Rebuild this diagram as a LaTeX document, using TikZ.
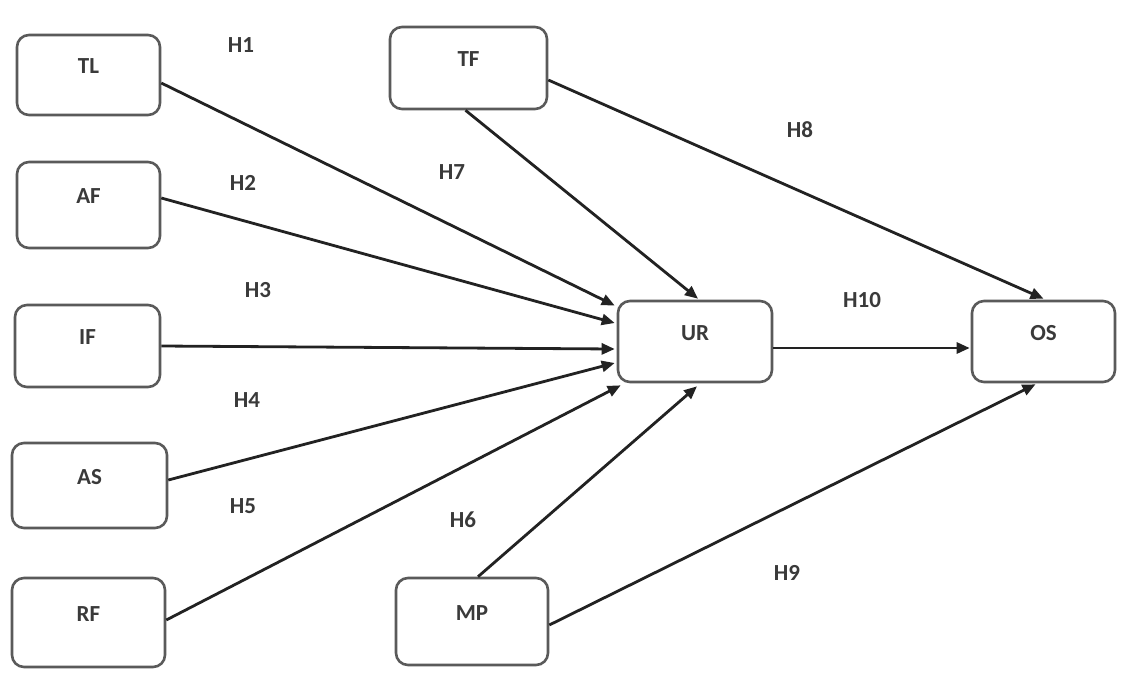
\documentclass[tikz,border=0pt]{standalone}
\usepackage{fontspec}
\setmainfont{Carlito}
\usetikzlibrary{arrows.meta}
\definecolor{boxline}{HTML}{5A5A5A}
\definecolor{txt}{HTML}{3A3A3A}
\definecolor{arr}{HTML}{222222}
\tikzset{
  box/.style={draw=boxline, line width=2.6pt, rounded corners=12pt, fill=white,
    minimum width=143pt, minimum height=82pt, inner sep=0pt,
    font=\fontsize{23}{26}\selectfont\bfseries, text=txt,
    text height=9pt, text depth=12pt},
  hyp/.style={font=\fontsize{23}{26}\selectfont\bfseries, text=txt, inner sep=0pt},
  link/.style={draw=arr, line width=2.8pt, -{Triangle[length=13pt,width=11pt]}}
}
\begin{document}
\begin{tikzpicture}[x=1pt,y=-1pt]
\useasboundingbox[fill=white] (0,0) rectangle (1135,681);
\node[box, minimum width=143pt, minimum height=80pt] (TL) at (88.5,75) {TL};
\node[box, minimum width=143pt, minimum height=86pt] (AF) at (88.5,205) {AF};
\node[box, minimum width=145pt, minimum height=82pt] (IF) at (87.5,346) {IF};
\node[box, minimum width=155pt, minimum height=85pt] (AS) at (89.5,485.5) {AS};
\node[box, minimum width=153pt, minimum height=89pt] (RF) at (88.5,622.5) {RF};
\node[box, minimum width=157pt, minimum height=82pt] (TF) at (468.5,68) {TF};
\node[box, minimum width=154pt, minimum height=81pt] (UR) at (695,341.5) {UR};
\node[box, minimum width=143pt, minimum height=81pt] (OS) at (1043.5,341.5) {OS};
\node[box, minimum width=152pt, minimum height=87pt] (MP) at (472,621.5) {MP};

\draw[link] ([yshift=-8pt]TL.east) -- ([xshift=-2pt,yshift=36pt]UR.west);
\draw[link] ([yshift=7pt]AF.east) -- ([xshift=-2pt,yshift=18.5pt]UR.west);
\draw[link] ([yshift=0pt]IF.east) -- ([xshift=-2pt,yshift=-7.5pt]UR.west);
\draw[link] ([yshift=5.5pt]AS.east) -- ([xshift=-2pt,yshift=-21.5pt]UR.west);
\draw[link] ([yshift=2.5pt]RF.east) -- ([xshift=4pt,yshift=-2pt]UR.south west);
\draw[link] ([xshift=-3pt]TF.south) -- ([xshift=3pt,yshift=1pt]UR.north);
\draw[link] ([yshift=-12pt]TF.east) -- ([yshift=1pt]OS.north);
\draw[link] ([yshift=-6.5pt]UR.east) -- ([xshift=-1pt,yshift=-6.5pt]OS.west);
\draw[link] ([xshift=6pt]MP.north) -- ([xshift=2pt,yshift=-3pt]UR.south);
\draw[link] ([yshift=-3.5pt]MP.east) -- ([xshift=-8pt,yshift=-1pt]OS.south);

\node[hyp] (h1) at (241,45) {H1};
\node[hyp] (h2) at (243,183) {H2};
\node[hyp] (h3) at (258,290) {H3};
\node[hyp] (h4) at (247,400) {H4};
\node[hyp] (h5) at (243,506) {H5};
\node[hyp] (h6) at (463,520) {H6};
\node[hyp] (h7) at (452,172) {H7};
\node[hyp] (h8) at (800,130) {H8};
\node[hyp] (h9) at (787,573) {H9};
\node[hyp] (h10) at (862,300) {H10};
\end{tikzpicture}
\end{document}
